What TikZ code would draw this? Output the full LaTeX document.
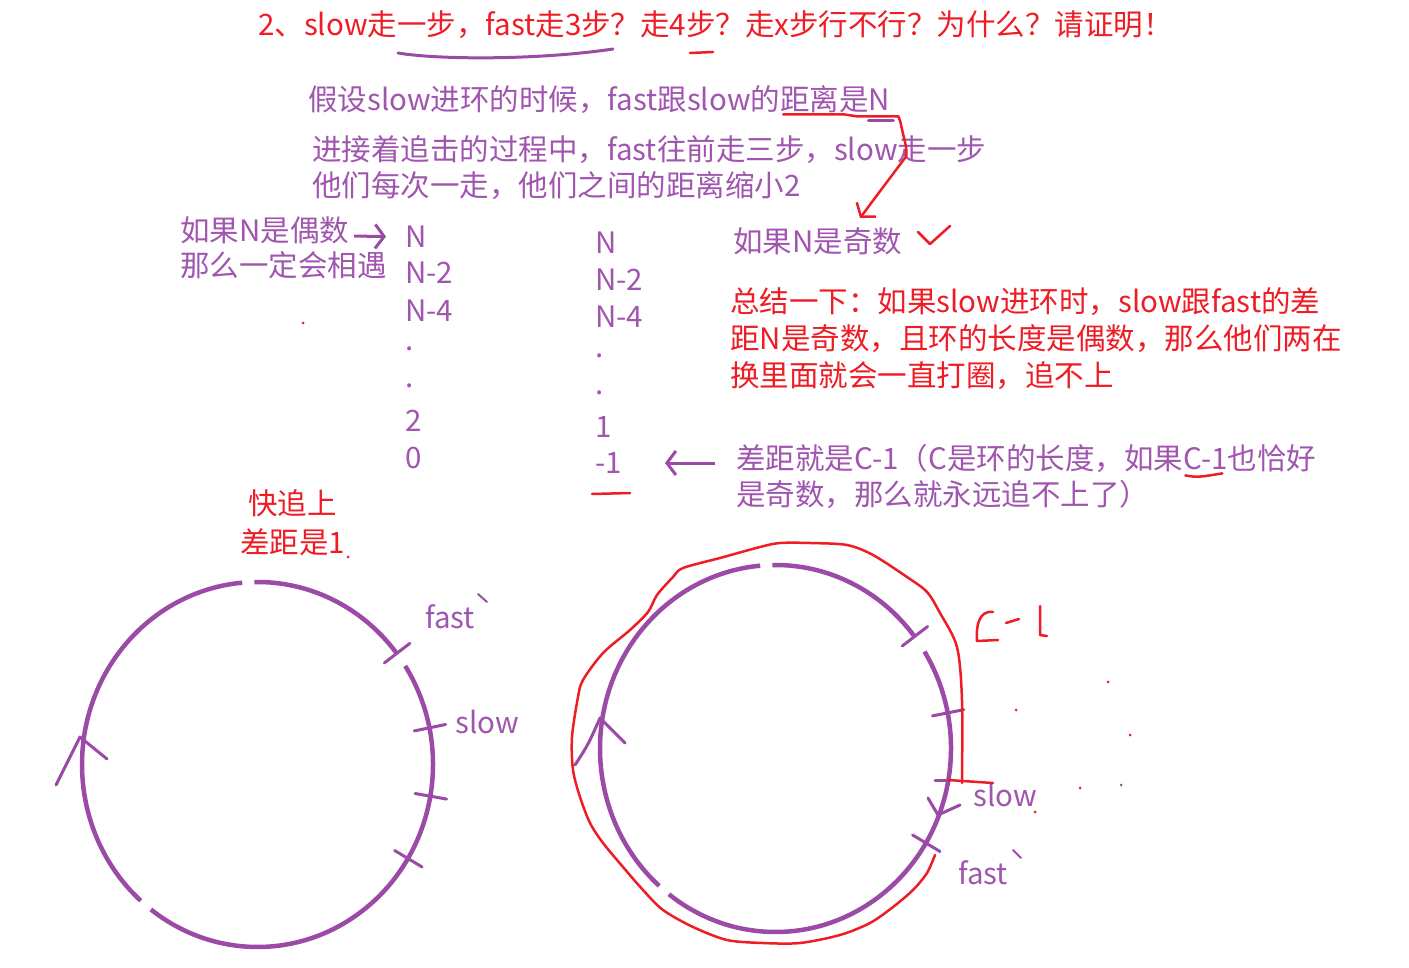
\documentclass[tikz,border=0pt]{standalone}
\usepackage{fontspec}
\setmainfont{Noto Sans CJK SC}
\usetikzlibrary{arrows.meta}

\definecolor{ringpurple}{RGB}{155,75,165}
\definecolor{notepurple}{RGB}{160,85,175}
\definecolor{notered}{RGB}{238,28,36}

\tikzset{
  note/.style={anchor=west, inner sep=0pt, text=notepurple, font=\fontsize{29.5}{31}\selectfont},
  rednote/.style={note, text=notered},
  ring/.style={draw=ringpurple, line width=4.5pt},
  tickmark/.style={draw=ringpurple, line width=3pt, line cap=round, line join=round},
  pencil/.style={draw=notered, line width=2.5pt, line cap=round, line join=round},
  barb/.style={draw=ringpurple, line width=3pt, -{Straight Barb[length=9pt,width=24pt]}},
}

\begin{document}
\begin{tikzpicture}[x=1pt,y=-1pt]
\useasboundingbox (0,0) rectangle (1409,968);

% the question
\node[rednote] (title) at (258,25) {2、slow走一步，fast走3步？走4步？走x步行不行？为什么？请证明！};
\draw[tickmark] (398,53) .. controls (440,60) and (540,60) .. (613,49);
\draw[pencil] (690,53) -- (713,52);

\node[note] (assume) at (308,100) {假设slow进环的时候，fast跟slow的距离是N};
\node[note] (chase) at (312,150) {进接着追击的过程中，fast往前走三步，slow走一步};
\node[note] (shrink) at (312,186) {他们每次一走，他们之间的距离缩小2};
\draw[pencil] (assume.south east) ++(-107,0) -- ++(60,0) -- ++(13,2) -- ++(42,0) coordinate (Nmark);
\draw[tickmark] (Nmark) ++(-30,4) -- ++(25,0);

% N even
\node[note] (even) at (180,230) {如果N是偶数};
\node[note] (meet) at (180,265) {那么一定会相遇};
\foreach \t/\y [count=\i] in {N/237,N-2/273,N-4/311,./349,./386,2/421,0/458}
  \node[note] (a\i) at (405,\y) {\t};
\draw[barb, shorten >=19pt] (even.east) ++(5,6) -- (a1.west);

% N odd
\foreach \t/\y [count=\i] in {N/243,N-2/280,N-4/317,./356,./393,1/427,-1/463}
  \node[note] (b\i) at (595,\y) {\t};
\draw[pencil] (592,494) -- (630,493);

\node[note] (odd) at (733,241) {如果N是奇数};
\coordinate (oddtip) at (860,218);
\draw[pencil, -{Straight Barb[length=9pt,width=24pt]}] (Nmark) -- ++(2,5)
  .. controls ++(4,20) and ++(1,-10) .. ++(6,35) -- (oddtip);
\draw[pencil] (918,232) -- (930,244) -- (950,226);

\node[rednote] (sum1) at (730,302) {总结一下：如果slow进环时，slow跟fast的差};
\node[rednote] (sum2) at (730,339) {距N是奇数，且环的长度是偶数，那么他们两在};
\node[rednote] (sum3) at (730,376) {换里面就会一直打圈，追不上};

\node[note] (gap1) at (736,458) {差距就是C-1（C是环的长度，如果C-1也恰好};
\node[note] (gap2) at (736,494) {是奇数，那么就永远追不上了）};
\draw[barb, shorten >=43pt] (gap1.west) ++(-21,5) -- (b7.east);
\draw[pencil] (gap1.south east) ++(-131,3) .. controls ++(12,2) .. ++(37,-2);

\node[rednote] (near) at (248,503) {快追上};
\node[rednote] (one) at (240,542) {差距是1};

% left ring
\coordinate (L) at (257.5,764.5);
\foreach \s/\e in {-91/-37.5,-32.7/127.4,131.7/265}
  \draw[ring] (L) ++(\s:175.5 and 182.5) arc[start angle=\s, end angle=\e, x radius=175.5, y radius=182.5];
\foreach \a in {-37.5,-11.6,10,31}
  \draw[tickmark] (L) ++(\a:160 and 167) -- ++(\a:32);
\draw[tickmark] (56,785) .. controls (66,765) .. (80,737) -- (107,759);
\node[note] (lfast) at (425,617) {fast};
\node[note] (lslow) at (455,722) {slow};
\draw[tickmark, line width=2pt] (478,594) -- (487,602);

% right ring
\coordinate (R) at (775.5,748.5);
\foreach \s/\e in {-91/-37.6,-31.9/127.4,131.5/265}
  \draw[ring] (R) ++(\s:175.5 and 183.5) arc[start angle=\s, end angle=\e, x radius=175.5, y radius=183.5];
\foreach \a in {-37.6,-11.2,31}
  \draw[tickmark] (R) ++(\a:160 and 168) -- ++(\a:32);
\draw[tickmark] (935,780) -- (950,780);
\draw[tickmark] (928,798) -- (938,815) -- (960,805);
\draw[tickmark] (575,765) .. controls (588,745) .. (600,718) -- (625,743);
\node[note] (rslow) at (973,795) {slow};
\node[note] (rfast) at (958,873) {fast};
\draw[tickmark, line width=2pt] (1013,850) -- (1021,858);

% C-1 loop
\draw[pencil] plot[smooth, tension=0.5] coordinates {(962,783) (962,700) (957,647) (940,613)
  (927,592) (907,577) (873,555) (847,545) (810,543) (780,543) (760,547) (720,558) (683,568)
  (673,577) (657,595) (648,612) (630,630) (603,653) (583,680) (578,697) (572,737) (573,770)
  (580,797) (590,823) (603,843) (623,867) (643,890) (663,910) (693,927) (727,940) (763,943)
  (800,943) (840,935) (870,923) (893,907) (913,890) (927,873) (935,855)};
\draw[pencil] (948,780) -- (993,783);
\draw[pencil] (993,612) .. controls (978,610) and (976,628) .. (977,641) -- (998,640);
\draw[pencil] (1006,623) -- (1019,619);
\draw[pencil] (1040,606) -- (1040,635) -- (1047,636);

% stray dots
\foreach \p in {(1108,682),(1016,710),(1130,735),(1080,788),(1035,812),(303,323),(348,557)}
  \fill[notered] \p circle[radius=1.5];
\fill[ringpurple] (1121,785) circle[radius=1.5];
\end{tikzpicture}
\end{document}
